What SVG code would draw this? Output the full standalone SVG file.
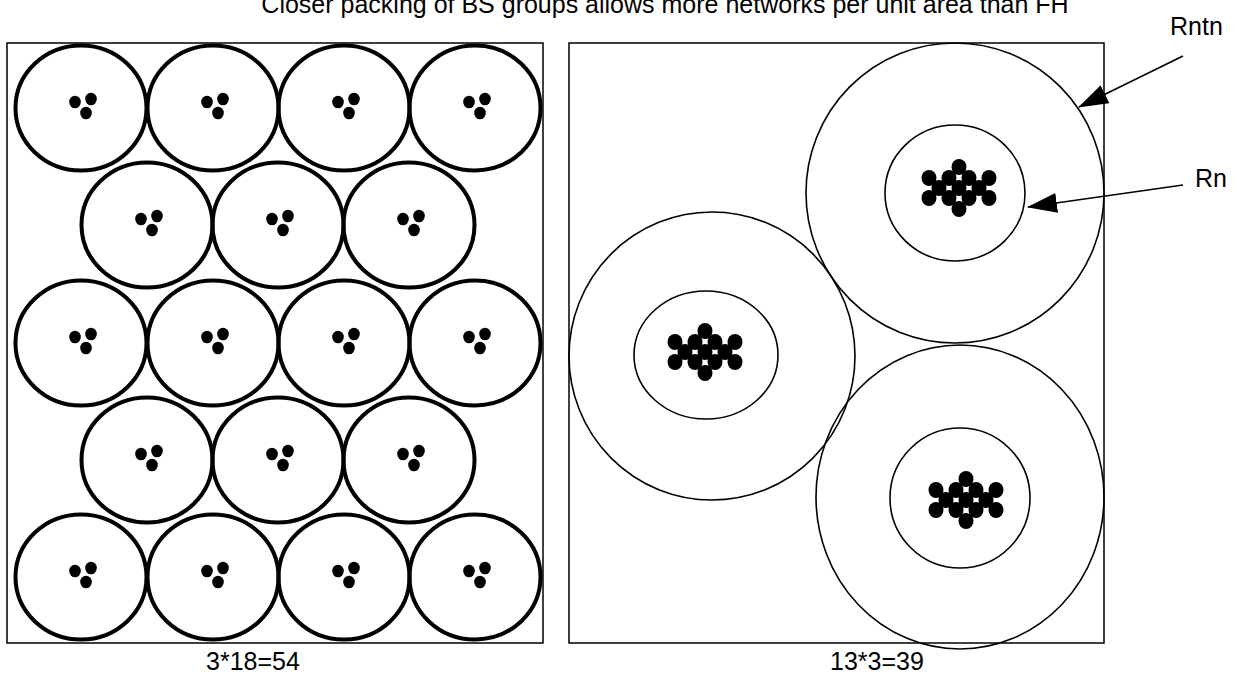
<svg xmlns="http://www.w3.org/2000/svg" width="1239" height="685" viewBox="0 0 1239 685">
<defs>
<style>
.frame{fill:none;stroke:#000;stroke-width:1.5}
.cell{fill:none;stroke:#000;stroke-width:4}
.ring{fill:none;stroke:#000;stroke-width:1.6}
.dot{fill:#000}
.lbl{font-family:"Liberation Sans",Arial,sans-serif;font-size:25px;fill:#000}
.arr{fill:none;stroke:#000;stroke-width:1.6}
</style>
<marker id="ah" markerUnits="userSpaceOnUse" markerWidth="30" markerHeight="20" viewBox="0 0 30 20" refX="29" refY="10" orient="auto">
<path d="M0,0 L30,10 L0,20 Z" fill="#000"/>
</marker>
<g id="bs3">
<ellipse cx="-6" cy="-6" rx="5.8" ry="6.3"/>
<ellipse cx="10" cy="-9" rx="5.8" ry="6.3"/>
<ellipse cx="5" cy="5" rx="5.8" ry="6.3"/>
</g>
<g id="bs13">
<ellipse cx="0" cy="-21" rx="7.5" ry="8"/>
<ellipse cx="-30" cy="-10" rx="7.5" ry="8"/>
<ellipse cx="-10" cy="-10" rx="7.5" ry="8"/>
<ellipse cx="10" cy="-10" rx="7.5" ry="8"/>
<ellipse cx="30" cy="-10" rx="7.5" ry="8"/>
<ellipse cx="-20" cy="0" rx="7.5" ry="8"/>
<ellipse cx="0" cy="0" rx="7.5" ry="8"/>
<ellipse cx="20" cy="0" rx="7.5" ry="8"/>
<ellipse cx="-30" cy="10" rx="7.5" ry="8"/>
<ellipse cx="-10" cy="10" rx="7.5" ry="8"/>
<ellipse cx="10" cy="10" rx="7.5" ry="8"/>
<ellipse cx="30" cy="10" rx="7.5" ry="8"/>
<ellipse cx="0" cy="21" rx="7.5" ry="8"/>
</g>
<g id="cellA">
<ellipse class="cell" cx="0" cy="0" rx="65.5" ry="62.5"/>
<use href="#bs3" class="dot"/>
</g>
</defs>
<rect width="1239" height="685" fill="#fff"/>

<text id="title" class="lbl" x="665" y="13" text-anchor="middle">Closer packing of BS groups allows more networks per unit area than FH</text>

<g id="panel-fh">
<rect class="frame" x="7" y="43" width="536" height="600"/>
<g id="fh-row1">
<use href="#cellA" x="81" y="108"/><use href="#cellA" x="213" y="108"/><use href="#cellA" x="344" y="108"/><use href="#cellA" x="475" y="108"/>
</g>
<g id="fh-row2">
<use href="#cellA" x="147" y="225"/><use href="#cellA" x="278" y="225"/><use href="#cellA" x="409" y="225"/>
</g>
<g id="fh-row3">
<use href="#cellA" x="81" y="343"/><use href="#cellA" x="213" y="343"/><use href="#cellA" x="344" y="343"/><use href="#cellA" x="475" y="343"/>
</g>
<g id="fh-row4">
<use href="#cellA" x="147" y="460"/><use href="#cellA" x="278" y="460"/><use href="#cellA" x="409" y="460"/>
</g>
<g id="fh-row5">
<use href="#cellA" x="81" y="577"/><use href="#cellA" x="213" y="577"/><use href="#cellA" x="344" y="577"/><use href="#cellA" x="475" y="577"/>
</g>
<text class="lbl" x="253" y="670" text-anchor="middle">3*18=54</text>
</g>

<g id="panel-bs">
<rect class="frame" x="569" y="43" width="535" height="600"/>
<g id="group-top">
<ellipse class="ring" cx="955" cy="193" rx="149" ry="150"/>
<ellipse class="ring" cx="955" cy="193" rx="70" ry="68"/>
<use href="#bs13" class="dot" x="959" y="188"/>
</g>
<g id="group-left">
<ellipse class="ring" cx="712" cy="356" rx="143" ry="144"/>
<ellipse class="ring" cx="706" cy="355" rx="72" ry="64"/>
<use href="#bs13" class="dot" x="705" y="352"/>
</g>
<g id="group-bottom">
<ellipse class="ring" cx="960" cy="497" rx="144" ry="152"/>
<ellipse class="ring" cx="960" cy="498" rx="70" ry="70"/>
<use href="#bs13" class="dot" x="966" y="500"/>
</g>
<text class="lbl" x="877" y="670" text-anchor="middle">13*3=39</text>
</g>

<g id="connectors">
<line class="arr" x1="1183" y1="56" x2="1079" y2="107" marker-end="url(#ah)"/>
<line class="arr" x1="1183" y1="185" x2="1028" y2="207" marker-end="url(#ah)"/>
</g>
<text id="lbl-rntn" class="lbl" x="1170" y="35">Rntn</text>
<text id="lbl-rn" class="lbl" x="1195" y="187">Rn</text>
</svg>
